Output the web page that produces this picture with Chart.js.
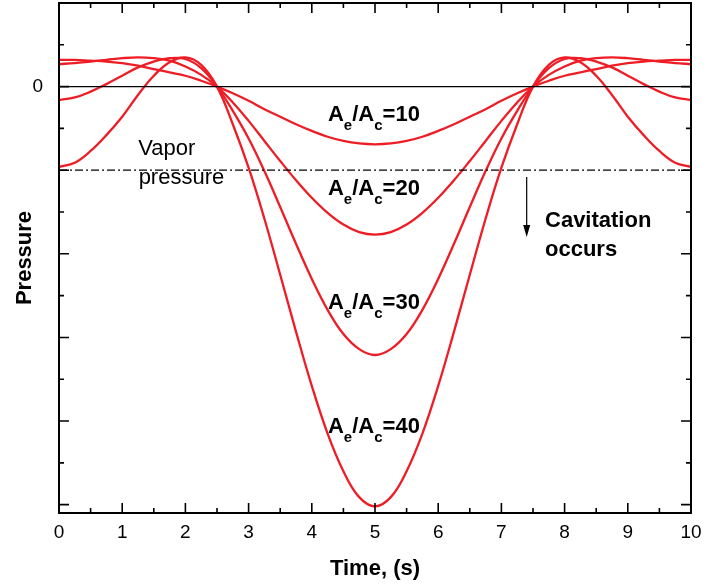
<!DOCTYPE html>
<html>
<head>
<meta charset="utf-8">
<script src="https://cdn.jsdelivr.net/npm/chart.js@4.4.1/dist/chart.umd.min.js"></script>
<style>
  html, body { margin: 0; padding: 0; background: #fff; }
  #wrap { width: 725px; height: 588px; position: relative; }
</style>
</head>
<body>
<div id="wrap"><canvas id="chart"></canvas></div>
<script>
// time axis (s)
const timeValues = [0, 0.25, 0.5, 0.75, 1, 1.25, 1.5, 1.75, 2, 2.25, 2.5, 2.75, 3, 3.25, 3.5, 3.75, 4, 4.25, 4.5, 4.75,
  5, 5.25, 5.5, 5.75, 6, 6.25, 6.5, 6.75, 7, 7.25, 7.5, 7.75, 8, 8.25, 8.5, 8.75, 9, 9.25, 9.5, 9.75, 10];

// pressure curves (arbitrary units, one major tick = 1)
const ratio10 = [0.32, 0.32, 0.31, 0.30, 0.28, 0.25, 0.21, 0.17, 0.13, 0.07, 0, -0.08, -0.17, -0.27, -0.36, -0.45, -0.53, -0.60, -0.65, -0.68,
  -0.69, -0.68, -0.65, -0.60, -0.53, -0.45, -0.36, -0.27, -0.17, -0.08, 0, 0.07, 0.13, 0.17, 0.21, 0.25, 0.28, 0.30, 0.31, 0.32, 0.32];
const ratio20 = [0.27, 0.28, 0.30, 0.32, 0.34, 0.35, 0.34, 0.31, 0.24, 0.14, 0, -0.19, -0.41, -0.65, -0.89, -1.12, -1.33, -1.51, -1.65, -1.74,
  -1.77, -1.74, -1.65, -1.51, -1.33, -1.12, -0.89, -0.65, -0.41, -0.19, 0, 0.14, 0.24, 0.31, 0.34, 0.35, 0.34, 0.32, 0.30, 0.28, 0.27];
const ratio30 = [-0.16, -0.13, -0.06, 0.03, 0.13, 0.23, 0.30, 0.34, 0.33, 0.22, 0, -0.29, -0.62, -1.01, -1.44, -1.88, -2.30, -2.67, -2.96, -3.14,
  -3.21, -3.14, -2.96, -2.67, -2.30, -1.88, -1.44, -1.01, -0.62, -0.29, 0, 0.22, 0.33, 0.34, 0.30, 0.23, 0.13, 0.03, -0.06, -0.13, -0.16];
const ratio40 = [-0.96, -0.91, -0.77, -0.58, -0.36, -0.10, 0.13, 0.29, 0.35, 0.26, 0, -0.45, -0.97, -1.58, -2.25, -2.93, -3.58, -4.15, -4.60, -4.91,
  -5.02, -4.91, -4.60, -4.15, -3.58, -2.93, -2.25, -1.58, -0.97, -0.45, 0, 0.26, 0.35, 0.29, 0.13, -0.10, -0.36, -0.58, -0.77, -0.91, -0.96];

const vaporLevel = -1;

// ticks
const xMajorTicks = [0, 1, 2, 3, 4, 5, 6, 7, 8, 9, 10];
const xTickLabels = ['0', '1', '2', '3', '4', '5', '6', '7', '8', '9', '10'];
const xMinorTicks = [0.5, 1.5, 2.5, 3.5, 4.5, 5.5, 6.5, 7.5, 8.5, 9.5];
const yMajorTicks = [-5, -4, -3, -2, -1, 0, 1];
const yMinorTicks = [-4.5, -3.5, -2.5, -1.5, -0.5, 0.5];
const yTickLabels = { '0': '0' };

const RED = '#ee1d25';
const pts = ys => timeValues.map((t, i) => ({ x: t, y: ys[i] }));

const curve = (ys) => ({
  data: pts(ys),
  borderColor: RED,
  borderWidth: 2.3,
  pointRadius: 0,
  tension: 0.4,
  fill: false
});

// frame, inward ticks and text annotations
const decorPlugin = {
  id: 'decor',
  afterDraw(chart) {
    const { ctx, chartArea: a, scales: { x, y } } = chart;
    ctx.save();
    ctx.strokeStyle = '#000';
    ctx.lineWidth = 2;
    ctx.strokeRect(a.left, a.top, a.right - a.left, a.bottom - a.top);

    ctx.lineWidth = 1.6;
    ctx.beginPath();
    const xTick = (v, len) => {
      const px = x.getPixelForValue(v);
      ctx.moveTo(px, a.bottom); ctx.lineTo(px, a.bottom - len);
      ctx.moveTo(px, a.top); ctx.lineTo(px, a.top + len);
    };
    const yTick = (v, len) => {
      const py = y.getPixelForValue(v);
      ctx.moveTo(a.left, py); ctx.lineTo(a.left + len, py);
      ctx.moveTo(a.right, py); ctx.lineTo(a.right - len, py);
    };
    xMajorTicks.forEach(v => xTick(v, 10));
    xMinorTicks.forEach(v => xTick(v, 5));
    yMajorTicks.forEach(v => yTick(v, 10));
    yMinorTicks.forEach(v => yTick(v, 5));
    ctx.stroke();

    // arrow: cavitation occurs below vapor pressure
    const ax = x.getPixelForValue(7.4);
    const ay1 = y.getPixelForValue(-1.08);
    const ay2 = y.getPixelForValue(-1.80);
    ctx.lineWidth = 1.2;
    ctx.beginPath();
    ctx.moveTo(ax, ay1); ctx.lineTo(ax, ay2 - 10);
    ctx.stroke();
    ctx.fillStyle = '#000';
    ctx.beginPath();
    ctx.moveTo(ax - 3.5, ay2 - 12); ctx.lineTo(ax + 3.5, ay2 - 12); ctx.lineTo(ax, ay2);
    ctx.closePath();
    ctx.fill();

    ctx.textBaseline = 'alphabetic';
    ctx.textAlign = 'left';
    const text = (s, t, p, font) => {
      ctx.font = font;
      ctx.fillText(s, x.getPixelForValue(t), y.getPixelForValue(p));
    };
    const plain = '22px "Liberation Sans", Arial, sans-serif';
    const bold = 'bold 22px "Liberation Sans", Arial, sans-serif';
    text('Vapor', 1.255, -0.82, plain);
    text('pressure', 1.26, -1.16, plain);
    text('Cavitation', 7.69, -1.68, bold);
    text('occurs', 7.69, -2.03, bold);

    const ratioLabel = (num, t, p) => {
      let px = x.getPixelForValue(t);
      const py = y.getPixelForValue(p);
      const sub = 'bold 15px "Liberation Sans", Arial, sans-serif';
      const parts = [['A', bold, 0], ['e', sub, 9], ['/A', bold, 0], ['c', sub, 9], ['=' + num, bold, 0]];
      parts.forEach(([s, f, dy]) => {
        ctx.font = f;
        ctx.fillText(s, px, py + dy);
        px += ctx.measureText(s).width;
      });
    };
    ratioLabel('10', 4.256, -0.408);
    ratioLabel('20', 4.256, -1.30);
    ratioLabel('30', 4.256, -2.66);
    ratioLabel('40', 4.256, -4.14);
    ctx.restore();
  }
};

new Chart(document.getElementById('chart'), {
  type: 'line',
  data: {
    datasets: [
      { data: [{ x: 0, y: 0 }, { x: 10, y: 0 }], borderColor: '#000', borderWidth: 1.4, pointRadius: 0 },
      { data: [{ x: 0, y: vaporLevel }, { x: 10, y: vaporLevel }], borderColor: '#000', borderWidth: 1.3,
        borderDash: [8, 3, 2, 3], pointRadius: 0 },
      curve(ratio10),
      curve(ratio20),
      curve(ratio30),
      curve(ratio40)
    ]
  },
  options: {
    responsive: true,
    maintainAspectRatio: false,
    animation: false,
    layout: { padding: { left: 0, right: 34, top: 3, bottom: 0 } },
    plugins: { legend: { display: false }, tooltip: { enabled: false } },
    scales: {
      x: {
        type: 'linear',
        min: 0,
        max: 10,
        grid: { display: false, drawTicks: false },
        border: { display: false },
        afterBuildTicks: s => { s.ticks = xMajorTicks.map(v => ({ value: v })); },
        afterFit: s => { s.height = 75; s.paddingLeft = 0; s.paddingRight = 0; },
        ticks: {
          color: '#000',
          padding: 8,
          maxRotation: 0,
          autoSkip: false,
          font: { family: '"Liberation Sans", Arial, sans-serif', size: 19 },
          callback: (v) => xTickLabels[xMajorTicks.indexOf(v)]
        },
        title: {
          display: true,
          text: 'Time, (s)',
          color: '#000',
          padding: { top: 0, bottom: 6 },
          font: { family: '"Liberation Sans", Arial, sans-serif', size: 22, weight: 'bold' }
        }
      },
      y: {
        type: 'linear',
        min: -5.1,
        max: 1,
        grid: { display: false, drawTicks: false },
        border: { display: false },
        afterBuildTicks: s => { s.ticks = yMajorTicks.map(v => ({ value: v })); },
        afterFit: s => { s.width = 59; s.paddingTop = 0; s.paddingBottom = 0; },
        ticks: {
          color: '#000',
          padding: 16,
          autoSkip: false,
          font: { family: '"Liberation Sans", Arial, sans-serif', size: 19 },
          callback: (v) => yTickLabels[String(v)] || ''
        },
        title: {
          display: true,
          text: 'Pressure',
          color: '#000',
          padding: { top: 12, bottom: 0 },
          font: { family: '"Liberation Sans", Arial, sans-serif', size: 22, weight: 'bold' }
        }
      }
    }
  },
  plugins: [decorPlugin]
});
</script>
</body>
</html>
